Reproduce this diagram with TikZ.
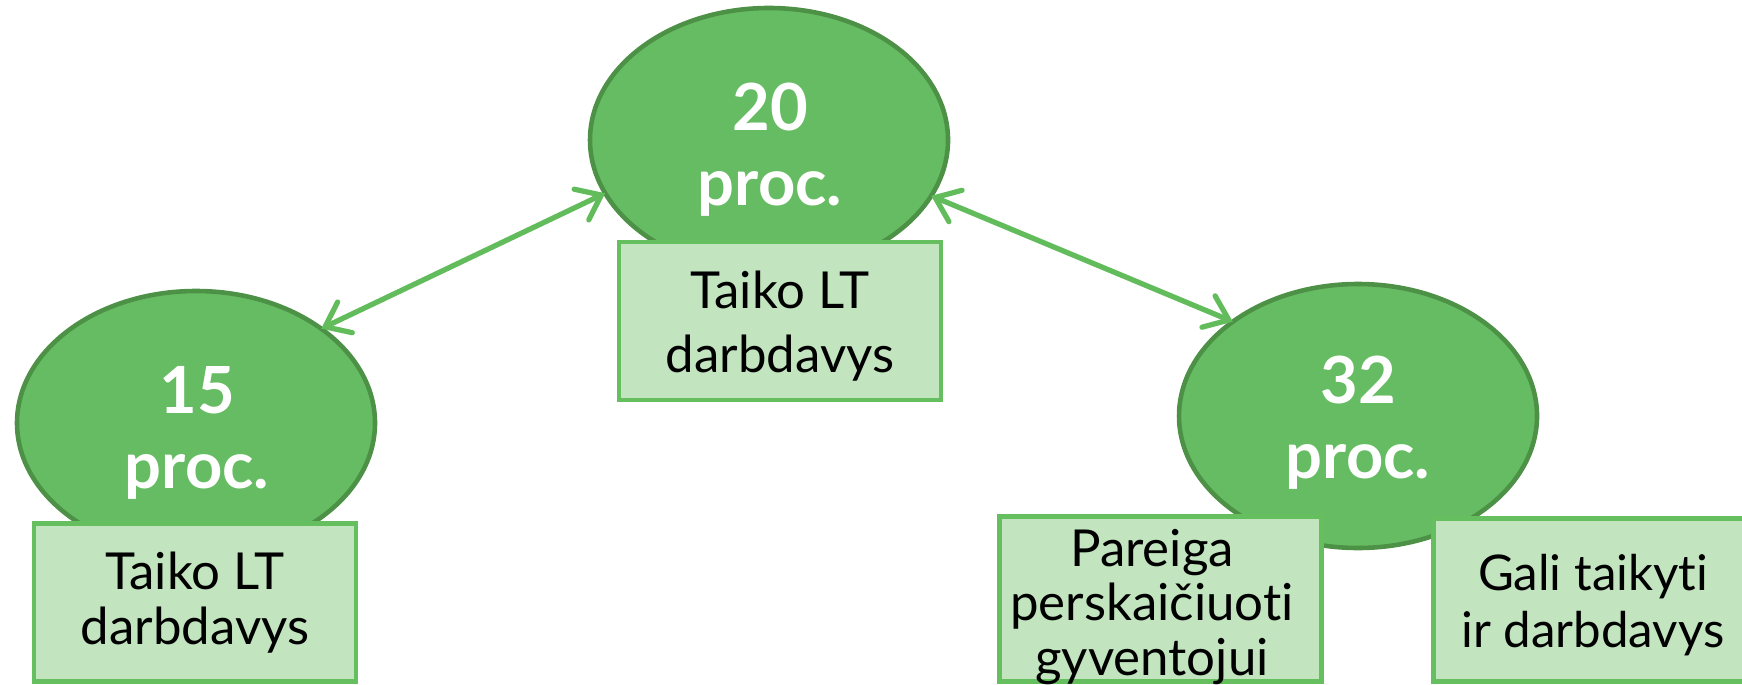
\documentclass[tikz,border=0pt]{standalone}
\usepackage{fontspec}
\setmainfont{Lato}[Ligatures={NoCommon,NoRare,NoContextual}, RawFeature={-liga;-dlig}]
\usetikzlibrary{shapes.geometric,arrows.meta}
\definecolor{ellfill}{HTML}{66BC62}
\definecolor{elldraw}{HTML}{4C9146}
\definecolor{boxfill}{HTML}{C2E5C0}
\definecolor{boxdraw}{HTML}{66BF5F}
\definecolor{arrowc}{HTML}{62BC5C}
\tikzset{
  bubble/.style={ellipse, draw=elldraw, fill=ellfill, line width=1.3pt,
    minimum width=3.58cm, minimum height=2.64cm, inner sep=0pt, outer sep=0pt},
  numtext/.style={text=white, font=\fontsize{18.5}{21.3}\selectfont\bfseries,
    align=center, inner sep=0pt},
  infobox/.style={rectangle, draw=boxdraw, fill=boxfill, line width=1.4pt,
    minimum width=3.22cm, inner sep=0pt, outer sep=0pt},
  boxtext/.style={align=center, inner sep=0pt, text=black},
  link/.style={draw=arrowc, line width=1.5pt, line cap=round,
    {Straight Barb[length=2.2mm,width=3.4mm,line cap=round]}-{Straight Barb[length=2.2mm,width=3.4mm,line cap=round]}},
}
\begin{document}
\begin{tikzpicture}
\clip (0,0) rectangle (17.42,6.84);
\useasboundingbox (0,0) rectangle (17.42,6.84);

% ellipses
\node[bubble] (top) at (7.69,5.44) {};
\node[bubble] (left) at (1.96,2.61) {};
\node[bubble] (right) at (13.58,2.68) {};

\node[numtext] (ttop) at (7.70,5.345) {20\\proc.};
\node[numtext] (tleft) at (1.97,2.515) {15\\proc.};
\node[numtext] (tright) at (13.58,2.615) {32\\proc.};

% connectors
\draw[link] (left.37) -- (top.198);
\draw[link] (top.341) -- (right.143.6);

% boxes
\node[infobox, minimum height=1.58cm] (btop) at (7.80,3.63) {};
\node[infobox, minimum height=1.58cm] (bleft) at (1.95,0.815) {};
\node[infobox, minimum height=1.65cm] (bpar) at (11.605,0.85) {};
\node[infobox, minimum height=1.63cm] (bgali) at (15.945,0.84) {};

\node[boxtext, font=\fontsize{14.5}{18.2}\selectfont] (ttop2) at (7.80,3.575) {Taiko LT\\darbdavys};
\node[boxtext, font=\fontsize{14.5}{15.6}\selectfont] (tleft2) at (1.95,0.815) {Taiko LT\\darbdavys};
\node[boxtext, font=\fontsize{14.5}{15.6}\selectfont] (tpar) at (11.52,0.77) {Pareiga\\perskaičiuoti\\gyventojui};
\node[boxtext, font=\fontsize{14}{16.2}\selectfont] (tgali) at (15.93,0.785) {Gali taikyti\\ir darbdavys};
\end{tikzpicture}
\end{document}
